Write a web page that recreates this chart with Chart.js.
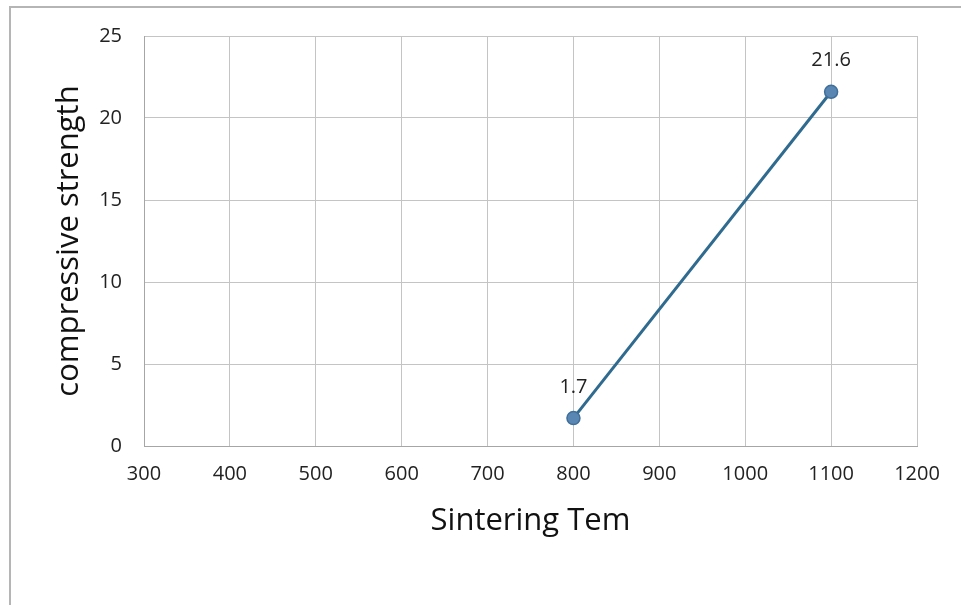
<!DOCTYPE html>
<html>
<head>
<meta charset="utf-8">
<script src="https://cdn.jsdelivr.net/npm/chart.js@4/dist/chart.umd.min.js"></script>
<style>
  html, body { margin: 0; padding: 0; background: #fff; }
  #wrap { position: relative; width: 961px; height: 605px; overflow: hidden; }
  #frame { position: absolute; left: 9px; top: 6px; width: 1000px; height: 700px;
           border-left: 2px solid #b5b5b5; border-top: 2px solid #b5b5b5; }
  canvas { position: absolute; left: 0; top: 0; }
</style>
</head>
<body>
<div id="wrap">
  <div id="frame"></div>
  <canvas id="c" width="961" height="605"></canvas>
</div>
<script>
// Sintering temperature vs compressive strength
const temperatures = [800, 1100];
const strengths = [1.7, 21.6];
const xTicks = [300, 400, 500, 600, 700, 800, 900, 1000, 1100, 1200];
const yTicks = [0, 5, 10, 15, 20, 25];

const FONT = "'Open Sans', 'Noto Sans', sans-serif";

// Writes each point's value above its marker
const valueLabels = {
  id: 'valueLabels',
  afterDatasetsDraw(chart) {
    const ctx = chart.ctx;
    const meta = chart.getDatasetMeta(0);
    ctx.save();
    ctx.font = "20px " + FONT;
    ctx.fillStyle = '#222';
    ctx.textAlign = 'center';
    ctx.textBaseline = 'middle';
    meta.data.forEach((pt, i) => {
      ctx.fillText(String(strengths[i]), pt.x, pt.y - 31);
    });
    ctx.restore();
  }
};

new Chart(document.getElementById('c'), {
  type: 'scatter',
  data: {
    datasets: [{
      data: temperatures.map((t, i) => ({ x: t, y: strengths[i] })),
      showLine: true,
      borderColor: '#2f6a8f',
      borderWidth: 3,
      pointRadius: 6.5,
      pointHoverRadius: 6.5,
      pointBackgroundColor: '#5a86b4',
      pointBorderColor: '#3f6f9a',
      pointBorderWidth: 1.5
    }]
  },
  options: {
    responsive: false,
    animation: false,
    events: [],
    layout: { padding: { top: 36, right: 44, bottom: 0, left: 0 } },
    plugins: { legend: { display: false }, tooltip: { enabled: false } },
    scales: {
      x: {
        type: 'linear',
        min: 300, max: 1200,
        afterBuildTicks(scale) { scale.ticks = xTicks.map(v => ({ value: v })); },
        afterFit(scale) { scale.height = 159; },
        grid: { color: '#c4c4c4', lineWidth: 1, drawTicks: false },
        border: { color: '#a6a6a6', width: 1 },
        ticks: { color: '#222', font: { family: FONT, size: 20 }, padding: 16,
                 callback: v => String(v) },
        title: {
          display: true, text: 'Sintering Tem', color: '#111',
          font: { family: FONT, size: 31 }, padding: { top: 0, bottom: 65 }
        }
      },
      y: {
        type: 'linear',
        min: 0, max: 25,
        afterBuildTicks(scale) { scale.ticks = yTicks.map(v => ({ value: v })); },
        afterFit(scale) { scale.width = 144; },
        grid: { color: '#c4c4c4', lineWidth: 1, drawTicks: false },
        border: { color: '#a6a6a6', width: 1 },
        ticks: { color: '#222', font: { family: FONT, size: 20 }, padding: 22,
                 callback: v => String(v) },
        title: {
          display: true, text: 'compressive strength', color: '#111',
          font: { family: FONT, size: 31 }, padding: { top: 51, bottom: 0 }
        }
      }
    }
  },
  plugins: [valueLabels]
});
</script>
</body>
</html>
